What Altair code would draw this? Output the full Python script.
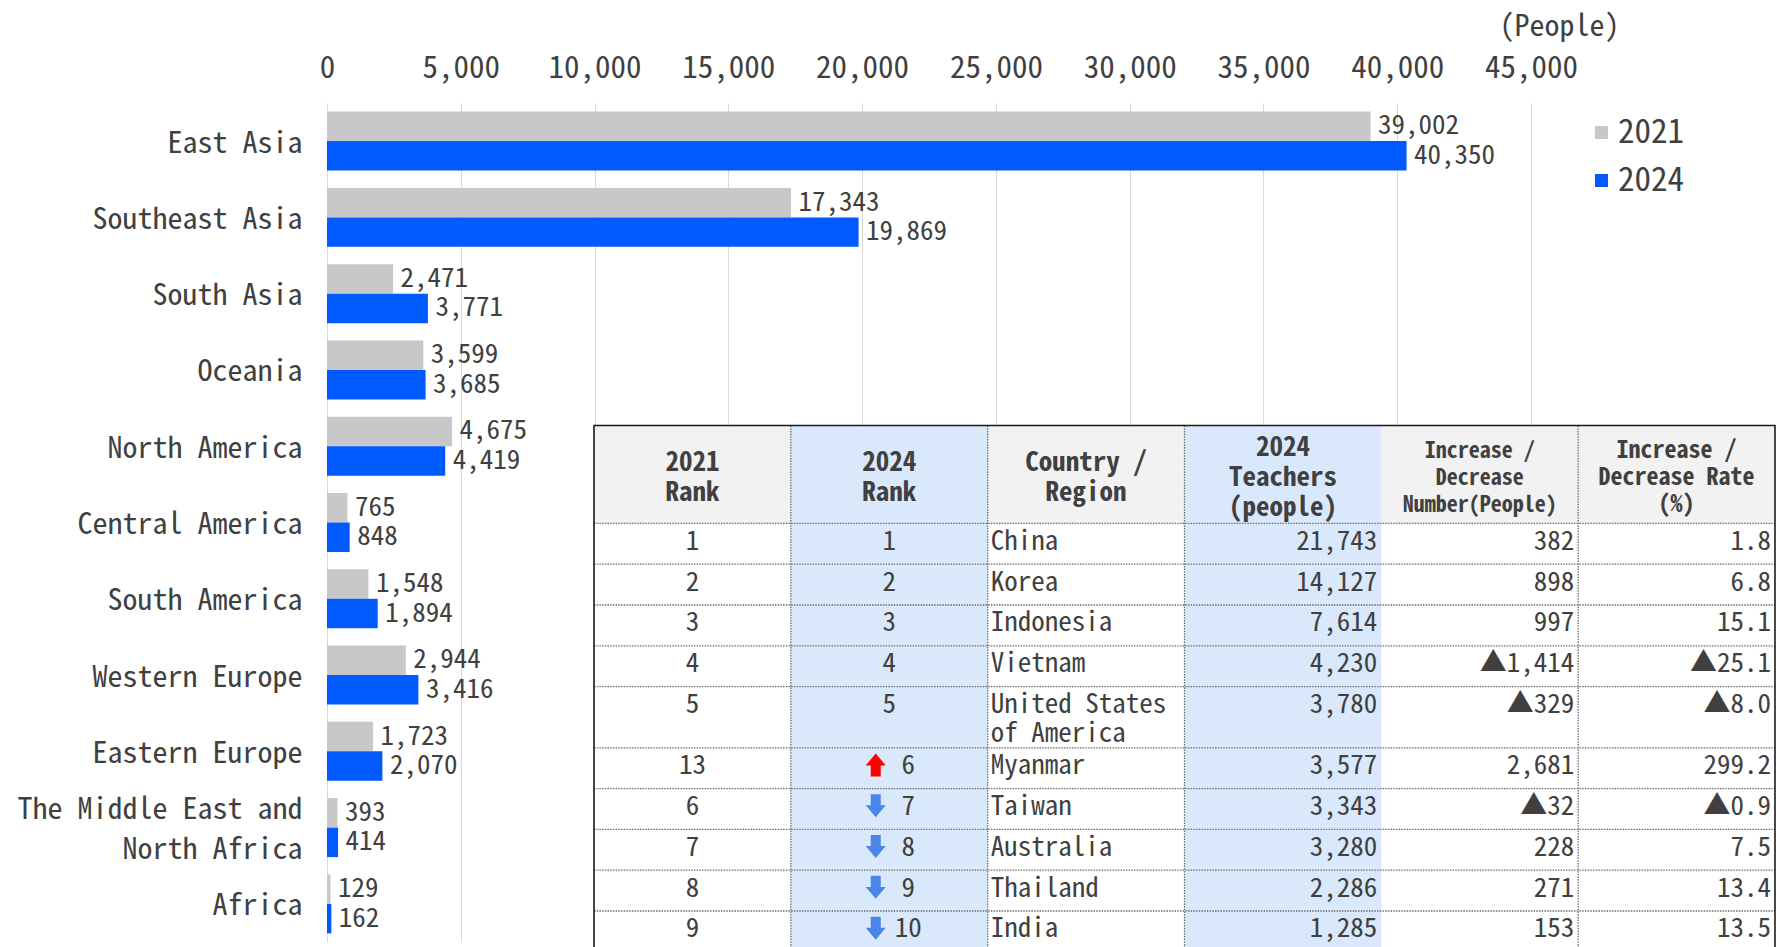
import altair as alt
import pandas as pd

FONT = "Noto Sans Mono CJK JP"
TXT = "#404040"

# ---------------- bar chart data ----------------
regions = ["East Asia", "Southeast Asia", "South Asia", "Oceania", "North America",
           "Central America", "South America", "Western Europe", "Eastern Europe",
           "The Middle East and North Africa", "Africa"]
teachers_2021 = [39002, 17343, 2471, 3599, 4675, 765, 1548, 2944, 1723, 393, 129]
teachers_2024 = [40350, 19869, 3771, 3685, 4419, 848, 1894, 3416, 2070, 414, 162]
years = ["2021", "2024"]
year_colors = ["#C8C8CA", "#005AFF"]
x_ticks = [0, 5000, 10000, 15000, 20000, 25000, 30000, 35000, 40000, 45000]
unit_label = "(People)"
two_line_region = "The Middle East and North Africa"
two_line_label = ["The Middle East and", "North Africa"]

# ---------------- table data ----------------
header_labels = ["2021\nRank", "2024\nRank", "Country /\nRegion", "2024\nTeachers\n(people)",
                 "Increase /\nDecrease\nNumber(People)", "Increase /\nDecrease Rate\n(%)"]
header_sizes = [27, 27, 27, 27, 22, 24]
rank_2021 = ["1", "2", "3", "4", "5", "13", "6", "7", "8", "9"]
rank_2024 = ["1", "2", "3", "4", "5", "6", "7", "8", "9", "10"]
rank_move = ["", "", "", "", "", "up", "down", "down", "down", "down"]
countries = ["China", "Korea", "Indonesia", "Vietnam", "United States\nof America", "Myanmar",
             "Taiwan", "Australia", "Thailand", "India"]
teachers_2024_top = ["21,743", "14,127", "7,614", "4,230", "3,780", "3,577", "3,343", "3,280",
                     "2,286", "1,285"]
change_num = ["382", "898", "997", "▲1,414", "▲329", "2,681", "▲32", "228", "271", "153"]
change_rate = ["1.8", "6.8", "15.1", "▲25.1", "▲8.0", "299.2", "▲0.9", "7.5", "13.4", "13.5"]

# ---------------- layout (pixels) ----------------
W, H = 1204, 839
TABLE_LEFT_PX, COL_W = 267.0, 196.83
TABLE_TOP_PX, ROW_UNIT = 322.5, 40.8
BODY_LINE = 29.5
HEAD_LINE_A, HEAD_LINE_B = 30, 27
header_h = 2.4
header_center = 1.295
row_h = [1.5 if "\n" in c else 1.0 for c in countries]
XD = [-TABLE_LEFT_PX / COL_W, (W - TABLE_LEFT_PX) / COL_W]
YD = [-TABLE_TOP_PX / ROW_UNIT, (H - TABLE_TOP_PX) / ROW_UNIT]

tops = []
acc = header_h
for h in row_h:
    tops.append(acc)
    acc += h
table_bottom = acc


def tx(field):
    return alt.X(field, type="quantitative", scale=alt.Scale(domain=XD, nice=False, zero=False), axis=None)


def ty(field):
    return alt.Y(field, type="quantitative",
                 scale=alt.Scale(domain=YD, nice=False, zero=False, reverse=True), axis=None)


def body_y(i):
    return tops[i] + 0.45


# ---------------- bar chart ----------------
bar_df = pd.DataFrame({
    "region": regions * 2,
    "year": [years[0]] * len(regions) + [years[1]] * len(regions),
    "value": teachers_2021 + teachers_2024,
})

label_expr = (f"datum.value == '{two_line_region}' ? "
              f"['{two_line_label[0]}', '{two_line_label[1]}'] : datum.label")
y_enc = alt.Y("region:N", sort=regions,
              scale=alt.Scale(paddingInner=0.227, paddingOuter=0.113),
              axis=alt.Axis(title=None, ticks=False, domain=False, labelPadding=25,
                            labelFontSize=30, labelLimit=450, labelLineHeight=40,
                            labelExpr=label_expr,
                            labelOffset=alt.condition(f"datum.value == '{two_line_region}'",
                                                      alt.value(-17.5), alt.value(2.5))))
yoff = alt.YOffset("year:N", sort=years, scale=alt.Scale(paddingInner=0, paddingOuter=0))
x_enc = alt.X("value:Q", scale=alt.Scale(domain=[0, 45000], nice=False),
              axis=alt.Axis(orient="top", values=x_ticks, format=",d", grid=True, gridColor="#D9D9D9",
                            gridWidth=1, ticks=False, tickSize=0, domain=False, labelFontSize=31,
                            labelBaseline="middle", labelPadding=35, labelFlush=False,
                            title=unit_label, titleFontSize=30, titleFontWeight="normal",
                            titleX=1232, titleY=-77, titleAlign="center", titleBaseline="middle",
                            titleAngle=0))

bars = alt.Chart(bar_df).mark_bar().encode(
    x=x_enc, y=y_enc, yOffset=yoff,
    color=alt.Color("year:N", sort=years, scale=alt.Scale(domain=years, range=year_colors),
                    legend=alt.Legend(title=None, orient="none", legendX=1258, legendY=13,
                                      symbolType="square", symbolSize=170, symbolStrokeWidth=0,
                                      labelFontSize=33, labelFont=FONT, labelColor=TXT,
                                      rowPadding=14, padding=0, labelOffset=0)),
)
bar_labels = alt.Chart(bar_df).mark_text(align="left", baseline="middle", dx=7.5, fontSize=27,
                                         color=TXT, font=FONT).encode(
    x=alt.X("value:Q"), y=alt.Y("region:N", sort=regions), yOffset=alt.YOffset("year:N", sort=years),
    text=alt.Text("value:Q", format=","),
)
bar_part = alt.layer(bars, bar_labels)

# ---------------- table ----------------
fills_df = pd.DataFrame([
    {"x": 0, "x2": 6, "y": 0, "y2": table_bottom, "c": "#FFFFFF"},
    {"x": 0, "x2": 6, "y": 0, "y2": header_h, "c": "#F2F2F2"},
    {"x": 1, "x2": 2, "y": 0, "y2": table_bottom, "c": "#DAE8FC"},
    {"x": 3, "x2": 4, "y": 0, "y2": table_bottom, "c": "#DAE8FC"},
])
fills = alt.Chart(fills_df).mark_rect(clip=False, strokeWidth=0).encode(
    x=tx("x"), x2="x2", y=ty("y"), y2="y2", color=alt.Color("c:N", scale=None))

hrule_df = pd.DataFrame({"y": tops, "x": [0] * len(tops), "x2": [6] * len(tops)})
hrules = alt.Chart(hrule_df).mark_rule(clip=False, color="#6E6E6E", strokeWidth=1.3,
                                       strokeDash=[1.5, 1.2]).encode(x=tx("x"), x2="x2", y=ty("y"))
vcols = [1, 2, 3, 5]
vrule_df = pd.DataFrame({"x": vcols, "y": [0] * len(vcols), "y2": [table_bottom] * len(vcols)})
vrules = alt.Chart(vrule_df).mark_rule(clip=False, color="#6E6E6E", strokeWidth=1.3,
                                       strokeDash=[1.5, 1.2]).encode(x=tx("x"), y=ty("y"), y2="y2")
border = alt.Chart(pd.DataFrame([{"x": 0, "x2": 6, "y": 0, "y2": table_bottom}])).mark_rect(
    clip=False, fill=None, fillOpacity=0, stroke="#1A1A1A", strokeWidth=1.6).encode(
    x=tx("x"), x2="x2", y=ty("y"), y2="y2")


def header_layer(cols, lh):
    rows = []
    for k in cols:
        n = header_labels[k].count("\n") + 1
        rows.append({"x": k + 0.5, "y": header_center - (n - 1) / 2 * lh / ROW_UNIT,
                     "t": header_labels[k], "fs": header_sizes[k]})
    return alt.Chart(pd.DataFrame(rows)).mark_text(
        clip=False, align="center", baseline="middle", fontWeight="bold", color=TXT, font=FONT,
        lineBreak="\n", lineHeight=lh).encode(
        x=tx("x"), y=ty("y"), text="t:N", size=alt.Size("fs:Q", scale=None))


header_a = header_layer([0, 1, 2, 3], HEAD_LINE_A)
header_b = header_layer([4, 5], HEAD_LINE_B)

center_rows = []
for i in range(len(countries)):
    center_rows.append({"x": 0.5, "y": body_y(i), "t": rank_2021[i]})
    if rank_move[i] == "":
        center_rows.append({"x": 1.5, "y": body_y(i), "t": rank_2024[i]})
center_text = alt.Chart(pd.DataFrame(center_rows)).mark_text(
    clip=False, align="center", baseline="middle", fontSize=27, color=TXT, font=FONT).encode(
    x=tx("x"), y=ty("y"), text="t:N")

moved_rows = [{"x": 1.5, "y": body_y(i), "t": rank_2024[i]}
              for i in range(len(countries)) if rank_move[i] != ""]
moved_text = alt.Chart(pd.DataFrame(moved_rows)).mark_text(
    clip=False, align="center", baseline="middle", dx=19, fontSize=27, color=TXT, font=FONT).encode(
    x=tx("x"), y=ty("y"), text="t:N")

left_df = pd.DataFrame({"x": [2] * len(countries), "y": [body_y(i) for i in range(len(countries))],
                        "t": countries})
left_text = alt.Chart(left_df).mark_text(clip=False, align="left", baseline="middle", dx=3, fontSize=27,
                                         color=TXT, font=FONT, lineBreak="\n", lineHeight=BODY_LINE).encode(
    x=tx("x"), y=ty("y"), text="t:N")

right_rows = []
for i in range(len(countries)):
    for k, col in ((4, teachers_2024_top), (5, change_num), (6, change_rate)):
        right_rows.append({"x": k, "y": body_y(i), "t": col[i]})
right_text = alt.Chart(pd.DataFrame(right_rows)).mark_text(
    clip=False, align="right", baseline="middle", dx=-4, fontSize=27, color=TXT, font=FONT).encode(
    x=tx("x"), y=ty("y"), text="t:N")

c = -1.174
UP = (f"M{c-0.435},1 L{c+0.435},1 L{c+0.435},0.04 L{c+0.87},0.04 L{c},-1 "
      f"L{c-0.87},0.04 L{c-0.435},0.04 Z")
DOWN = (f"M{c-0.435},-1 L{c+0.435},-1 L{c+0.435},-0.04 L{c+0.87},-0.04 L{c},1 "
        f"L{c-0.87},-0.04 L{c-0.435},-0.04 Z")
arrow_rows = [{"x": 1.5, "y": body_y(i) - 0.03,
               "shape": UP if rank_move[i] == "up" else DOWN,
               "col": "#FF0000" if rank_move[i] == "up" else "#4A86E8"}
              for i in range(len(countries)) if rank_move[i] != ""]
arrows = alt.Chart(pd.DataFrame(arrow_rows)).mark_point(
    clip=False, filled=True, opacity=1, size=529, strokeWidth=0).encode(
    x=tx("x"), y=ty("y"), shape=alt.Shape("shape:N", scale=None), color=alt.Color("col:N", scale=None))

table_part = alt.layer(fills, hrules, vrules, border, header_a, header_b, center_text, moved_text,
                       left_text, right_text, arrows)

chart = alt.layer(bar_part, table_part).resolve_scale(
    x="independent", y="independent", color="independent"
).properties(
    width=W, height=H,
    autosize=alt.AutoSizeParams(type="none"),
    padding={"left": 319, "top": 95, "right": 249, "bottom": 5},
    background="white",
).configure_view(stroke=None).configure_axis(
    labelFont=FONT, titleFont=FONT, labelColor=TXT, titleColor=TXT
)

chart.save("out.html", embed_options={"renderer": "svg", "actions": False})
